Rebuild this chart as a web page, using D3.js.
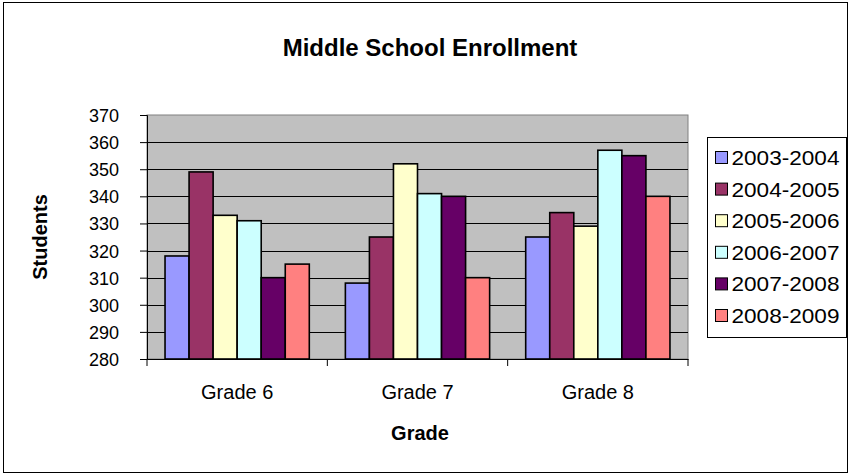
<!DOCTYPE html>
<html>
<head>
<meta charset="utf-8">
<script src="https://cdn.jsdelivr.net/npm/d3@7"></script>
<style>
  body { margin: 0; background: #fff; }
  svg text { font-family: "Liberation Sans", Arial, sans-serif; fill: #000; }
</style>
</head>
<body>
<section></section>
<script>
// chart data
var grades = ["Grade 6", "Grade 7", "Grade 8"];
var years = ["2003-2004", "2004-2005", "2005-2006", "2006-2007", "2007-2008", "2008-2009"];
var y2003 = [318, 308, 325];
var y2004 = [349, 325, 334];
var y2005 = [333, 352, 329];
var y2006 = [331, 341, 357];
var y2007 = [310, 340, 355];
var y2008 = [315, 310, 340];
var yTicks = [280, 290, 300, 310, 320, 330, 340, 350, 360, 370];
var colors = ["#9999FF", "#993366", "#FFFFCC", "#CCFFFF", "#660066", "#FF8080"];

var series = [y2003, y2004, y2005, y2006, y2007, y2008];

var W = 851, H = 476;
var plot = {left: 147, top: 115, right: 688, bottom: 359};

var svg = d3.select("section").append("svg")
    .attr("width", W)
    .attr("height", H);

// outer chart border
svg.append("rect")
  .attr("x", 3.5).attr("y", 2.5)
  .attr("width", 844).attr("height", 470)
  .attr("fill", "#fff").attr("stroke", "#000");

var x0 = d3.scaleBand()
  .domain(grades)
  .range([plot.left, plot.right]);

var x1 = d3.scaleBand()
  .domain(years)
  .range([0, x0.bandwidth()])
  .paddingInner(0)
  .paddingOuter(0.75);

var y = d3.scaleLinear()
  .domain([280, 370])
  .range([plot.bottom, plot.top]);

// plot background
svg.append("rect")
  .attr("x", plot.left).attr("y", plot.top)
  .attr("width", plot.right - plot.left)
  .attr("height", plot.bottom - plot.top)
  .attr("fill", "#C0C0C0")
  .attr("stroke", "#808080");

// gridlines
svg.append("g")
  .selectAll("line")
  .data(yTicks.slice(1, -1))
  .enter().append("line")
  .attr("x1", plot.left).attr("x2", plot.right)
  .attr("y1", function(d) { return Math.round(y(d)) + 0.5; })
  .attr("y2", function(d) { return Math.round(y(d)) + 0.5; })
  .attr("stroke", "#000")
  .attr("stroke-width", 1);

// bars
var groups = svg.append("g")
  .selectAll("g")
  .data(grades)
  .enter().append("g")
  .attr("transform", function(d) { return "translate(" + x0(d) + ",0)"; });

groups.selectAll("rect")
  .data(function(g, gi) {
    return years.map(function(yr, i) { return {year: yr, value: series[i][gi], i: i}; });
  })
  .enter().append("rect")
  .attr("x", function(d) { return x1(d.year); })
  .attr("y", function(d) { return y(d.value); })
  .attr("width", x1.bandwidth())
  .attr("height", function(d) { return plot.bottom - y(d.value); })
  .attr("fill", function(d) { return colors[d.i]; })
  .attr("stroke", "#000")
  .attr("stroke-width", 1.6);

// y axis
var yAxis = svg.append("g")
  .attr("transform", "translate(" + plot.left + ",0)")
  .call(d3.axisLeft(y).tickValues(yTicks).tickSize(7).tickPadding(21));
yAxis.select(".domain").attr("stroke", "#000");
yAxis.selectAll("text").style("font-size", "18px").attr("dy", "0.36em");

// x axis
var xAxis = svg.append("g")
  .attr("transform", "translate(0," + plot.bottom + ")")
  .call(d3.axisBottom(x0).tickSize(0).tickPadding(26));
xAxis.select(".domain").attr("stroke", "#000");
xAxis.selectAll("text").style("font-size", "20px");
xAxis.append("g")
  .selectAll("line")
  .data(grades.concat(["end"]))
  .enter().append("line")
  .attr("x1", function(d, i) { return x0.range()[0] + i * x0.step(); })
  .attr("x2", function(d, i) { return x0.range()[0] + i * x0.step(); })
  .attr("y1", 0).attr("y2", 7)
  .attr("stroke", "#000");

// titles
svg.append("text")
  .attr("x", 430).attr("y", 56)
  .attr("text-anchor", "middle")
  .style("font-size", "24px").style("font-weight", "bold")
  .text("Middle School Enrollment");

svg.append("text")
  .attr("x", 420).attr("y", 440)
  .attr("text-anchor", "middle")
  .style("font-size", "20px").style("font-weight", "bold")
  .text("Grade");

svg.append("text")
  .attr("transform", "translate(47,237) rotate(-90)")
  .attr("text-anchor", "middle")
  .style("font-size", "20px").style("font-weight", "bold")
  .text("Students");

// legend
var legend = svg.append("g")
  .attr("transform", "translate(707.5,137.5)");
legend.append("rect")
  .attr("width", 139).attr("height", 200)
  .attr("fill", "#fff").attr("stroke", "#000");

var item = legend.selectAll(".item")
  .data(years)
  .enter().append("g")
  .attr("class", "item")
  .attr("transform", function(d, i) { return "translate(8," + (20 + i * 31.6) + ")"; });

item.append("rect")
  .attr("x", 0).attr("y", -6)
  .attr("width", 12).attr("height", 12)
  .attr("fill", function(d, i) { return colors[i]; })
  .attr("stroke", "#000");

item.append("text")
  .attr("x", 16).attr("dy", "0.36em")
  .attr("textLength", 108)
  .attr("lengthAdjust", "spacingAndGlyphs")
  .style("font-size", "21px")
  .text(function(d) { return d; });
</script>
</body>
</html>
